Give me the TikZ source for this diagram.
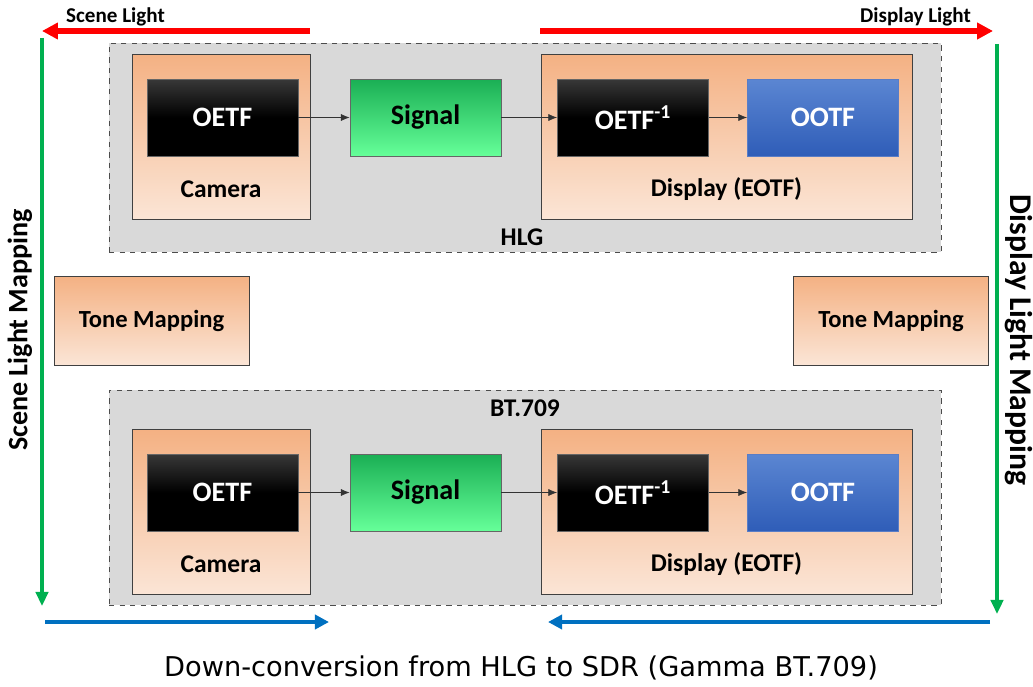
\documentclass[tikz,border=0pt]{standalone}
\usepackage{fontspec}
\setmainfont{Carlito}
\newfontfamily\capfont{DejaVu Sans}
\usetikzlibrary{arrows.meta,positioning,calc}

\definecolor{grpgray}{HTML}{D9D9D9}
\definecolor{orgtop}{HTML}{F4B183}
\definecolor{orgbot}{HTML}{FBE5D6}
\definecolor{sigtop}{HTML}{1AAF54}
\definecolor{sigbot}{HTML}{66FF99}
\definecolor{ootftop}{HTML}{5B86D2}
\definecolor{ootfbot}{HTML}{2F5DB8}
\definecolor{arrred}{HTML}{FF0000}
\definecolor{arrgreen}{HTML}{00B050}
\definecolor{arrblue}{HTML}{0070C0}

\begin{document}
\begin{tikzpicture}[x=0.02cm, y=-0.02cm,
    grp/.style={draw=black!70, dashed, fill=grpgray, minimum width=16.64cm},
    stage/.style={draw=black!75, top color=orgtop, bottom color=orgbot, minimum height=3.3cm},
    tone/.style={draw=black!75, top color=orgtop, bottom color=orgbot, minimum width=3.9cm, minimum height=1.78cm, font=\bfseries\fontsize{14}{16}\selectfont},
    blk/.style={draw=black!60, minimum width=3.02cm, minimum height=1.54cm, text=white, font=\bfseries\fontsize{16}{18}\selectfont},
    oetf/.style={blk, top color=black!78, bottom color=black, middle color=black},
    sig/.style={blk, top color=sigtop, bottom color=sigbot, text=black},
    ootf/.style={blk, top color=ootftop, bottom color=ootfbot, draw=ootfbot!80},
    lbl/.style={font=\bfseries\fontsize{14.5}{16}\selectfont},
    arr/.style={-{Latex[length=5pt,width=4pt]}, black!80, thin},
    redarr/.style={-{Triangle[length=9pt,width=9pt]}, arrred, line width=3.2pt},
    grnarr/.style={-{Triangle[length=8pt,width=7pt]}, arrgreen, line width=2.2pt},
    bluarr/.style={-{Triangle[length=8pt,width=8pt]}, arrblue, line width=2.8pt},
    toplbl/.style={font=\bfseries\fontsize{12}{14}\selectfont}
]
\useasboundingbox (0,0) rectangle (1033,686);

% HLG chain
\node[grp, minimum height=4.18cm] (hlg) at (525,147.5) {};
\node[lbl] (hlglbl) at (522,237) {HLG};
\node[stage, minimum width=3.56cm] (camA) at (221,136.5) {};
\node[stage, minimum width=7.42cm] (dispA) at (726.5,136.5) {};
\node[oetf] (oetfA) at (222.5,117.5) {OETF};
\node[sig] (sigA) at (425.5,117.5) {Signal};
\node[oetf] (invA) at (633,117.5) {OETF\textsuperscript{-1}};
\node[ootf] (ootfA) at (823,117.5) {OOTF};
\node[lbl] (camAlbl) at (221,189) {Camera};
\node[lbl] (dispAlbl) at (726.5,189) {Display (EOTF)};
\draw[arr] (oetfA) -- (sigA);
\draw[arr] (sigA) -- (invA);
\draw[arr] (invA) -- (ootfA);

% BT.709 chain
\node[grp, minimum height=4.3cm] (bt) at (525,497.5) {};
\node[lbl] (btlbl) at (525,408) {BT.709};
\node[stage, minimum width=3.56cm] (camB) at (221,512) {};
\node[stage, minimum width=7.42cm] (dispB) at (726.5,512) {};
\node[oetf] (oetfB) at (222.5,492.5) {OETF};
\node[sig] (sigB) at (425.5,492.5) {Signal};
\node[oetf] (invB) at (633,492.5) {OETF\textsuperscript{-1}};
\node[ootf] (ootfB) at (823,492.5) {OOTF};
\node[lbl] (camBlbl) at (221,564) {Camera};
\node[lbl] (dispBlbl) at (726.5,564) {Display (EOTF)};
\draw[arr] (oetfB) -- (sigB);
\draw[arr] (sigB) -- (invB);
\draw[arr] (invB) -- (ootfB);

% tone mapping
\node[tone] (toneL) at (151.5,320.5) {Tone Mapping};
\node[tone] (toneR) at (891,320.5) {Tone Mapping};

% light arrows
\coordinate (rlA) at (310,31);
\coordinate (rlB) at (42,31);
\coordinate (rrA) at (540,31);
\coordinate (rrB) at (993,31);
\coordinate (glA) at (42,38);
\coordinate (glB) at (42,606);
\coordinate (grA) at (997,44);
\coordinate (grB) at (997,614);
\coordinate (blA) at (45,622);
\coordinate (blB) at (329,622);
\coordinate (brA) at (990,622);
\coordinate (brB) at (548,622);
\draw[redarr] (rlA) -- (rlB);
\draw[redarr] (rrA) -- (rrB);
\draw[grnarr] (glA) -- (glB);
\draw[grnarr] (grA) -- (grB);
\draw[bluarr] (blA) -- (blB);
\draw[bluarr] (brA) -- (brB);

\node[toplbl, anchor=west] (scl) at (60,17) {Scene Light};
\node[toplbl, anchor=east] (dsl) at (977,17) {Display Light};
\node[font=\bfseries\fontsize{16}{18}\selectfont, rotate=90] (slm) at (20,330) {Scene Light Mapping};
\node[font=\bfseries\fontsize{18}{20}\selectfont, rotate=-90] (dlm) at (1019,340) {Display Light Mapping};

\node[font=\capfont\fontsize{15.5}{18}\selectfont] (cap) at (521,668) {Down-conversion from HLG to SDR (Gamma BT.709)};
\end{tikzpicture}
\end{document}
